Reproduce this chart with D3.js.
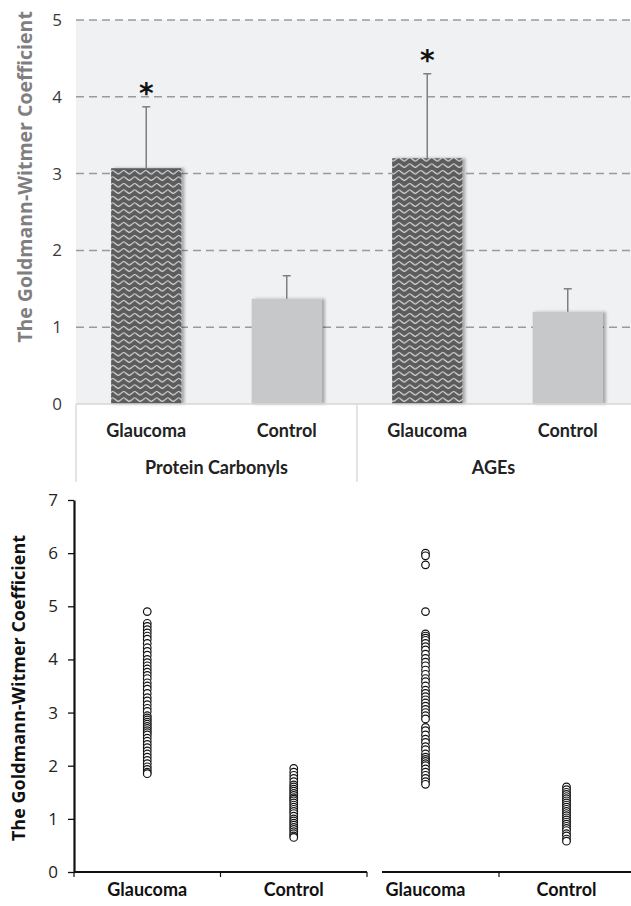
<!DOCTYPE html>
<html>
<head>
<meta charset="utf-8">
<script src="https://cdn.jsdelivr.net/npm/d3@7"></script>
<style>
  body { margin: 0; background: #fff; }
  svg { display: block; }
</style>
</head>
<body>
<script>
// ---- data ----
var groups = ['Protein Carbonyls', 'AGEs'];
var conditions = ['Glaucoma', 'Control'];
var meanPC = [3.07, 1.37];
var errPC = [0.80, 0.30];
var meanAGE = [3.20, 1.20];
var errAGE = [1.10, 0.30];
var starPC = [true, false];
var starAGE = [true, false];
var topTicks = [0, 1, 2, 3, 4, 5];
var bottomTicks = [0, 1, 2, 3, 4, 5, 6, 7];

var pcGlaucoma = [4.9, 4.68, 4.62, 4.56, 4.5, 4.44, 4.38, 4.3, 4.22, 4.15, 4.08, 4.0, 3.94, 3.88,
  3.82, 3.76, 3.7, 3.64, 3.56, 3.5, 3.44, 3.36, 3.28, 3.22, 3.15, 3.08, 3.02, 2.94, 2.9, 2.86,
  2.82, 2.78, 2.74, 2.7, 2.66, 2.62, 2.58, 2.52, 2.46, 2.4, 2.34, 2.28, 2.22, 2.16, 2.1, 2.04,
  1.98, 1.93, 1.88, 1.85];
var pcControl = [1.95, 1.88, 1.82, 1.76, 1.7, 1.64, 1.6, 1.56, 1.52, 1.48, 1.44, 1.4, 1.37, 1.34,
  1.3, 1.26, 1.22, 1.18, 1.14, 1.1, 1.05, 1.0, 0.96, 0.92, 0.88, 0.84, 0.8, 0.76, 0.72, 0.68, 0.65];
var ageGlaucoma = [6.0, 5.95, 5.78, 4.9, 4.48, 4.44, 4.4, 4.36, 4.3, 4.24, 4.18, 4.1, 4.02, 3.95,
  3.88, 3.8, 3.72, 3.64, 3.58, 3.5, 3.42, 3.36, 3.3, 3.24, 3.18, 3.12, 3.06, 3.0, 2.94, 2.88,
  2.72, 2.66, 2.58, 2.5, 2.44, 2.36, 2.3, 2.22, 2.16, 2.12, 2.08, 2.04, 2.0, 1.94, 1.88, 1.82,
  1.76, 1.7, 1.65];
var ageControl = [1.6, 1.55, 1.5, 1.46, 1.42, 1.38, 1.34, 1.3, 1.26, 1.22, 1.18, 1.14, 1.1, 1.06,
  1.02, 0.98, 0.94, 0.9, 0.86, 0.82, 0.78, 0.72, 0.68, 0.62, 0.58];

var bars = [];
groups.forEach(function (g, gi) {
  var m = gi === 0 ? meanPC : meanAGE, e = gi === 0 ? errPC : errAGE, s = gi === 0 ? starPC : starAGE;
  conditions.forEach(function (c, ci) {
    bars.push({group: g, cond: c, mean: m[ci], err: e[ci], star: s[ci]});
  });
});
var dots = [];
[[pcGlaucoma, pcControl], [ageGlaucoma, ageControl]].forEach(function (pair, gi) {
  pair.forEach(function (arr, ci) {
    arr.forEach(function (v) { dots.push({panel: gi, cond: conditions[ci], value: v}); });
  });
});

var width = 631, height = 906;
var svg = d3.select('body').append('svg').attr('width', width).attr('height', height);

var defs = svg.append('defs');
var pat = defs.append('pattern').attr('id', 'wave').attr('patternUnits', 'userSpaceOnUse')
  .attr('width', 11).attr('height', 6.5);
pat.append('rect').attr('width', 11).attr('height', 6.5).attr('fill', '#5b5b5b');
pat.append('path').attr('d', 'M0,3.2 C2.75,0.8 2.75,0.8 5.5,3.2 C8.25,5.6 8.25,5.6 11,3.2')
  .attr('fill', 'none').attr('stroke', '#e6e6e6').attr('stroke-width', 1.1);
var sh = defs.append('filter').attr('id', 'shadow').attr('x', '-20%').attr('y', '-5%')
  .attr('width', '150%').attr('height', '110%');
sh.append('feDropShadow').attr('dx', 3).attr('dy', 0).attr('stdDeviation', 1.4)
  .attr('flood-color', '#000').attr('flood-opacity', 0.3);

// ---- top: bar chart ----
var tp = {left: 76, right: 638, top: 20, bottom: 404};
var x0 = d3.scaleBand().domain(groups).range([tp.left, tp.right]);
var x1 = d3.scaleBand().domain(conditions).range([0, x0.bandwidth()]).paddingInner(0.5).paddingOuter(0.25);
var y = d3.scaleLinear().domain([0, 5]).range([tp.bottom, tp.top]);

svg.append('rect').attr('x', tp.left).attr('y', tp.top)
  .attr('width', tp.right - tp.left).attr('height', tp.bottom - tp.top).attr('fill', '#f0f1f3');

svg.append('g').selectAll('line').data(topTicks.filter(function (d) { return d > 0; })).enter()
  .append('line')
  .attr('x1', tp.left).attr('x2', tp.right)
  .attr('y1', function (d) { return y(d); }).attr('y2', function (d) { return y(d); })
  .attr('stroke', '#9a9a9a').attr('stroke-width', 1.5).attr('stroke-dasharray', '8,5');

var yAxis = svg.append('g').attr('transform', 'translate(' + tp.left + ',0)')
  .call(d3.axisLeft(y).tickValues(topTicks).tickSize(0).tickPadding(14).tickFormat(d3.format('d')));
yAxis.select('.domain').remove();
yAxis.selectAll('text').attr('font-family', 'Open Sans').attr('font-size', 17).attr('fill', '#3a3a3a');

var barG = svg.append('g');
barG.selectAll('rect').data(bars).enter().append('rect')
  .attr('x', function (d) { return x0(d.group) + x1(d.cond); })
  .attr('width', x1.bandwidth())
  .attr('y', function (d) { return y(d.mean); })
  .attr('height', function (d) { return y(0) - y(d.mean); })
  .attr('fill', function (d) { return d.cond === 'Glaucoma' ? 'url(#wave)' : '#c7c8ca'; })
  .attr('filter', 'url(#shadow)');

var errG = svg.append('g').attr('stroke', '#7f7f7f').attr('stroke-width', 1.5);
bars.forEach(function (d) {
  var cx = x0(d.group) + x1(d.cond) + x1.bandwidth() / 2;
  errG.append('line').attr('x1', cx).attr('x2', cx).attr('y1', y(d.mean)).attr('y2', y(d.mean + d.err));
  errG.append('line').attr('x1', cx - 4).attr('x2', cx + 4).attr('y1', y(d.mean + d.err)).attr('y2', y(d.mean + d.err));
});

svg.append('g').selectAll('text').data(bars.filter(function (d) { return d.star; })).enter()
  .append('text')
  .attr('x', function (d) { return x0(d.group) + x1(d.cond) + x1.bandwidth() / 2; })
  .attr('y', function (d) { return y(d.mean + d.err) - 4; })
  .attr('text-anchor', 'middle')
  .attr('font-family', 'DejaVu Sans').attr('font-weight', 'bold').attr('font-size', 28)
  .attr('fill', '#111').text('*');

// category table below the plot
var tbl = svg.append('g').attr('stroke', '#d6d6d6').attr('stroke-width', 1.3);
tbl.append('line').attr('x1', tp.left).attr('x2', width).attr('y1', tp.bottom).attr('y2', tp.bottom);
groups.forEach(function (g) {
  tbl.append('line').attr('x1', x0(g)).attr('x2', x0(g)).attr('y1', tp.bottom).attr('y2', 482);
});

bars.forEach(function (d) {
  svg.append('text')
    .attr('x', x0(d.group) + x1(d.cond) + x1.bandwidth() / 2).attr('y', 437)
    .attr('text-anchor', 'middle').attr('font-family', 'Lato').attr('font-weight', 'bold')
    .attr('font-size', 18).attr('fill', '#222').text(d.cond);
});
groups.forEach(function (g) {
  var cx = g === groups[groups.length - 1] ? x0(g) + x0.bandwidth() / 2 - 4 : x0(g) + x0.bandwidth() / 2;
  svg.append('text').attr('x', cx).attr('y', 474)
    .attr('text-anchor', 'middle').attr('font-family', 'Lato').attr('font-weight', 'bold')
    .attr('font-size', 18).attr('fill', '#222').text(g);
});

svg.append('text')
  .attr('transform', 'translate(32,' + 177 + ') rotate(-90)')
  .attr('text-anchor', 'middle').attr('font-family', 'Open Sans').attr('font-weight', 'bold')
  .attr('font-size', 19.5).attr('fill', '#7f7f7f').text('The Goldmann-Witmer Coefficient');

// ---- bottom: scatter ----
var bot = {left: 74, top: 500, bottom: 872};
var yb = d3.scaleLinear().domain([0, 7]).range([bot.bottom, bot.top]);
var panels = [
  d3.scaleBand().domain(conditions).range([74, 367]),
  d3.scaleBand().domain(conditions).range([355, 637])
];

var ybAxis = svg.append('g').attr('transform', 'translate(' + bot.left + ',0)')
  .call(d3.axisLeft(yb).tickValues(bottomTicks).tickSize(6).tickSizeOuter(0).tickPadding(10).tickFormat(d3.format('d')));
ybAxis.select('.domain').attr('stroke', '#111').attr('stroke-width', 2.2);
ybAxis.selectAll('.tick line').attr('stroke', '#111').attr('stroke-width', 1.3);
ybAxis.selectAll('text').attr('font-family', 'Open Sans').attr('font-size', 17).attr('fill', '#222');

// x axes, one per panel
var axl = svg.append('g').attr('stroke', '#111');
axl.append('line').attr('x1', panels[0].range()[0]).attr('x2', panels[0].range()[1])
  .attr('y1', bot.bottom).attr('y2', bot.bottom).attr('stroke-width', 2.2);
axl.append('line').attr('x1', 382).attr('x2', width)
  .attr('y1', bot.bottom).attr('y2', bot.bottom).attr('stroke-width', 2.2);
[panels[0].range()[0], panels[0]('Control'), panels[0].range()[1], panels[1]('Control') + 3].forEach(function (tx) {
  axl.append('line').attr('x1', tx).attr('x2', tx).attr('y1', bot.bottom).attr('y2', bot.bottom + 5)
    .attr('stroke-width', 1.2);
});

svg.append('g').selectAll('circle').data(dots).enter().append('circle')
  .attr('cx', function (d) { var s = panels[d.panel]; return s(d.cond) + s.bandwidth() / 2; })
  .attr('cy', function (d) { return yb(d.value); })
  .attr('r', 3.8)
  .attr('fill', '#fff').attr('stroke', '#111').attr('stroke-width', 1.2);

panels.forEach(function (s) {
  conditions.forEach(function (c) {
    svg.append('text').attr('x', s(c) + s.bandwidth() / 2).attr('y', 896)
      .attr('text-anchor', 'middle').attr('font-family', 'Lato').attr('font-weight', 'bold')
      .attr('font-size', 18).attr('fill', '#111').text(c);
  });
});

svg.append('text')
  .attr('transform', 'translate(25,' + 688 + ') rotate(-90)')
  .attr('text-anchor', 'middle').attr('font-family', 'Open Sans').attr('font-weight', 'bold')
  .attr('font-size', 18).attr('fill', '#111').text('The Goldmann-Witmer Coefficient');
</script>
</body>
</html>
